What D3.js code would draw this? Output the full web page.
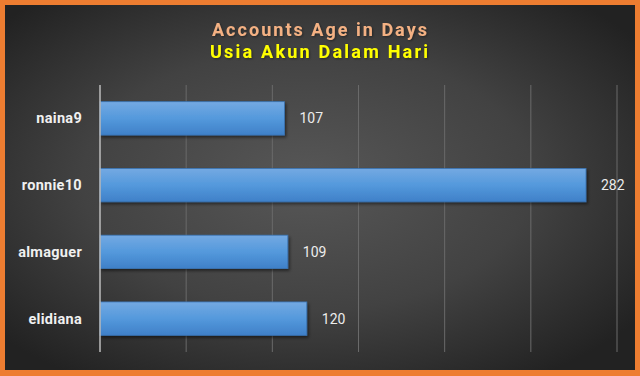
<!DOCTYPE html>
<html><head><meta charset="utf-8">
<script src="https://cdn.jsdelivr.net/npm/d3@7"></script>
<style>html,body{margin:0;padding:0;background:#ed7d31;}svg{display:block;}</style>
</head><body>
<script>
const categories = ["naina9", "ronnie10", "almaguer", "elidiana"];
const values = [107, 282, 109, 120];
const xTicks = [0, 50, 100, 150, 200, 250, 300];
const titleLines = ["Accounts Age in Days", "Usia Akun Dalam Hari"];

const W = 640, H = 376;
const svg = d3.select("body").append("svg").attr("width", W).attr("height", H);
const defs = svg.append("defs");

const bg = defs.append("radialGradient").attr("id","bg").attr("cx","48%").attr("cy","48%").attr("r","65%");
bg.append("stop").attr("offset","0%").attr("stop-color","#575757");
bg.append("stop").attr("offset","55%").attr("stop-color","#424242");
bg.append("stop").attr("offset","100%").attr("stop-color","#222222");

const bar = defs.append("linearGradient").attr("id","bar").attr("x1",0).attr("y1",0).attr("x2",0).attr("y2",1);
bar.append("stop").attr("offset","0%").attr("stop-color","#74a9e2");
bar.append("stop").attr("offset","50%").attr("stop-color","#5499dc");
bar.append("stop").attr("offset","100%").attr("stop-color","#3f80c8");

const sh = defs.append("filter").attr("id","sh").attr("x","-10%").attr("y","-30%").attr("width","130%").attr("height","180%");
sh.append("feDropShadow").attr("dx",1.5).attr("dy",2).attr("stdDeviation",1.5).attr("flood-color","#000").attr("flood-opacity",0.5);
const tsh = defs.append("filter").attr("id","tsh").attr("x","-10%").attr("y","-30%").attr("width","130%").attr("height","180%");
tsh.append("feDropShadow").attr("dx",1).attr("dy",1).attr("stdDeviation",0.8).attr("flood-color","#000").attr("flood-opacity",0.4);

// frame
svg.append("rect").attr("x",0).attr("y",0).attr("width",W).attr("height",H).attr("fill","#ed7d31");
svg.append("rect").attr("x",5).attr("y",5).attr("width",630).attr("height",365).attr("fill","url(#bg)");

const x = d3.scaleLinear().domain([0, 300]).range([100, 617]);
const y = d3.scaleBand().domain(categories).range([85, 352]).paddingInner(0.5).paddingOuter(0.25);

// gridlines
svg.append("g").selectAll("line").data(xTicks.slice(1)).join("line")
  .attr("x1", d => x(d)).attr("x2", d => x(d))
  .attr("y1", 85).attr("y2", 352)
  .attr("stroke", "#6a6a6a").attr("stroke-width", 1);

// bars
svg.append("g").selectAll("rect").data(values).join("rect")
  .attr("x", x(0)).attr("y", (d,i) => y(categories[i]))
  .attr("width", d => x(d) - x(0)).attr("height", y.bandwidth())
  .attr("fill", "url(#bar)").attr("stroke","#3a74b4").attr("stroke-width",0.8)
  .attr("filter","url(#sh)");

// axis line
svg.append("line").attr("x1", x(0)).attr("x2", x(0)).attr("y1", 85).attr("y2", 352)
  .attr("stroke", "#bdbdbd").attr("stroke-width", 1.5);

// category labels
const yAxis = d3.axisLeft(y).tickSize(0).tickPadding(18);
const ga = svg.append("g").attr("transform", `translate(${x(0)},0)`).call(yAxis);
ga.select(".domain").remove();
ga.selectAll("text").attr("fill","#f0f0f0").attr("font-family","Roboto, 'DejaVu Sans', sans-serif")
  .attr("font-size","14.5px").attr("font-weight","bold").attr("letter-spacing","0.3px").attr("dy","0.35em");

// value labels
svg.append("g").selectAll("text").data(values).join("text")
  .attr("x", d => x(d) + 15).attr("y", (d,i) => y(categories[i]) + y.bandwidth()/2)
  .attr("dy","0.35em").attr("fill","#ececec")
  .attr("font-family","Roboto, 'DejaVu Sans', sans-serif").attr("font-size","14px")
  .text(d => d);

// titles
svg.append("text").attr("x", 212).attr("y", 36)
  .attr("fill","#f4b183").attr("font-family","Roboto, 'DejaVu Sans', sans-serif")
  .attr("font-size","18px").attr("font-weight","bold")
  .attr("textLength", 215).attr("lengthAdjust","spacing")
  .attr("filter","url(#tsh)")
  .text(titleLines[0]);
svg.append("text").attr("x", 210).attr("y", 58)
  .attr("fill","#ffff00").attr("font-family","Roboto, 'DejaVu Sans', sans-serif")
  .attr("font-size","18px").attr("font-weight","bold")
  .attr("textLength", 218).attr("lengthAdjust","spacing")
  .attr("filter","url(#tsh)")
  .text(titleLines[1]);
</script>
</body></html>
